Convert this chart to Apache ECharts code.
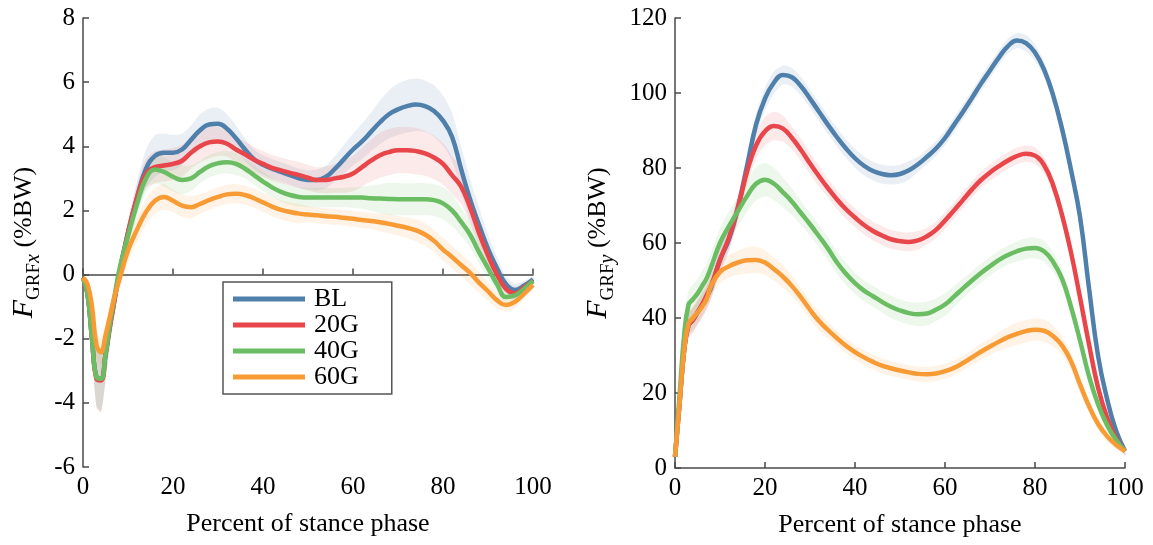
<!DOCTYPE html>
<html><head><meta charset="utf-8">
<script src="https://cdn.jsdelivr.net/npm/echarts@6/dist/echarts.min.js"></script>
<style>html,body{margin:0;padding:0;background:#fff}#c{width:1153px;height:545px}</style>
</head><body><div id="c"></div>
<script>
// ---------- data ----------
const percent = [0,1,2,3,4,5,6,7,8,
  10,12,14,16,18,20,22,24,26,28,
  30,32,34,36,38,40,42,44,46,48,
  50,52,54,56,58,60,62,64,66,68,
  70,72,74,76,78,80,82,84,86,88,
  90,92,94,96,98,100];
const groupNames = ['BL','20G','40G','60G'];
const xTicks = [0,20,40,60,80,100];

// Left panel: F_GRFx mean (%BW)
const fxBL = [-0.1,-0.6,-2.0,-3.2,-3.25,-2.5,-1.6,-0.8,0.0,
  1.3,2.4,3.3,3.7,3.8,3.8,3.9,4.2,4.5,4.68,
  4.7,4.55,4.25,3.9,3.6,3.42,3.3,3.2,3.1,3.0,
  2.95,2.95,3.05,3.3,3.6,3.9,4.15,4.45,4.75,5.0,
  5.15,5.25,5.3,5.25,5.1,4.8,4.3,3.3,2.35,1.55,
  0.8,0.2,-0.3,-0.48,-0.35,-0.15];
const fx20G = [-0.1,-0.6,-2.0,-3.25,-3.3,-2.5,-1.6,-0.8,0.0,
  1.3,2.4,3.15,3.35,3.4,3.45,3.55,3.8,4.0,4.12,
  4.15,4.08,3.9,3.75,3.58,3.45,3.33,3.25,3.17,3.1,
  3.02,2.95,2.95,3.0,3.05,3.15,3.35,3.55,3.72,3.82,
  3.88,3.88,3.85,3.78,3.65,3.45,3.1,2.75,2.1,1.3,
  0.6,0.0,-0.45,-0.58,-0.4,-0.2];
const fx40G = [-0.1,-0.6,-2.0,-3.2,-3.25,-2.5,-1.5,-0.7,0.1,
  1.2,2.2,3.0,3.28,3.2,3.05,2.95,3.0,3.2,3.38,
  3.47,3.5,3.45,3.3,3.1,2.9,2.72,2.58,2.48,2.42,
  2.4,2.4,2.4,2.4,2.4,2.4,2.4,2.38,2.37,2.36,
  2.35,2.35,2.35,2.35,2.32,2.22,2.0,1.65,1.25,0.7,
  0.2,-0.3,-0.7,-0.65,-0.45,-0.2];
const fx60G = [-0.1,-0.3,-1.0,-2.2,-2.42,-1.9,-1.3,-0.7,-0.2,
  0.75,1.4,1.95,2.3,2.42,2.3,2.15,2.1,2.2,2.32,
  2.42,2.5,2.52,2.48,2.38,2.25,2.12,2.02,1.95,1.9,
  1.87,1.85,1.82,1.8,1.77,1.74,1.7,1.67,1.63,1.58,
  1.52,1.46,1.38,1.25,1.05,0.78,0.55,0.3,0.05,-0.25,
  -0.52,-0.8,-0.95,-0.85,-0.6,-0.32];
// Left panel: standard deviation
const fxBLsd = [0.05,0.2,0.5,0.9,1.0,0.8,0.6,0.45,0.35,
  0.4,0.5,0.6,0.65,0.6,0.55,0.5,0.45,0.5,0.5,
  0.5,0.45,0.4,0.35,0.3,0.3,0.3,0.3,0.3,0.3,
  0.3,0.32,0.35,0.4,0.45,0.5,0.55,0.6,0.68,0.75,
  0.8,0.82,0.82,0.8,0.8,0.78,0.75,0.7,0.65,0.55,
  0.45,0.35,0.25,0.2,0.15,0.1];
const fx20Gsd = [0.05,0.2,0.5,0.9,1.0,0.8,0.6,0.45,0.35,
  0.35,0.4,0.45,0.5,0.5,0.5,0.5,0.5,0.5,0.5,
  0.45,0.4,0.4,0.4,0.4,0.4,0.4,0.4,0.4,0.4,
  0.4,0.4,0.42,0.45,0.5,0.55,0.6,0.65,0.7,0.72,
  0.72,0.72,0.72,0.7,0.68,0.65,0.6,0.55,0.5,0.45,
  0.4,0.3,0.25,0.2,0.15,0.1];
const fx40Gsd = [0.05,0.2,0.5,0.9,1.0,0.8,0.6,0.45,0.35,
  0.35,0.4,0.45,0.45,0.45,0.45,0.45,0.4,0.35,0.35,
  0.35,0.35,0.35,0.3,0.3,0.3,0.3,0.3,0.3,0.3,
  0.3,0.3,0.3,0.3,0.3,0.32,0.35,0.4,0.45,0.5,
  0.5,0.5,0.5,0.5,0.5,0.5,0.48,0.45,0.4,0.35,
  0.3,0.25,0.2,0.15,0.1,0.1];
const fx60Gsd = [0.05,0.1,0.25,0.4,0.45,0.4,0.35,0.3,0.3,
  0.35,0.4,0.4,0.4,0.4,0.35,0.35,0.35,0.3,0.3,
  0.3,0.3,0.3,0.3,0.3,0.3,0.3,0.3,0.3,0.3,
  0.25,0.25,0.25,0.25,0.25,0.25,0.25,0.25,0.28,0.3,
  0.3,0.32,0.35,0.35,0.35,0.35,0.35,0.35,0.35,0.32,
  0.3,0.25,0.2,0.2,0.15,0.1];

// Right panel: F_GRFy mean (%BW)
const fyBL = [3,17,31,38,39.5,41.5,43.5,45.5,48,
  55.5,61,69.5,80.5,91.5,98.5,102.8,104.8,104.2,101.8,
  98.5,95,91.5,88.2,85.2,82.6,80.6,79.2,78.4,78.1,
  78.4,79.4,81,83,85.2,88,91.5,95,98.7,102.5,
  106,109.5,112.5,114,113.3,110.8,106.3,99.5,90.5,79.5,
  67,48,30,18.5,10,4.5];
const fy20G = [3,17,31,38,39.5,41.5,43.5,46,48.5,
  55.5,61.5,69.5,79,86,89.8,91.2,90.5,88,84.8,
  81.2,77.8,74.6,71.6,69,66.8,64.8,63.2,62,61,
  60.5,60.3,60.7,61.8,63.5,66,68.7,71.5,74.3,76.8,
  78.8,80.5,82,83.2,83.8,83.3,80.8,75.5,67.5,57.5,
  45.5,33,21.5,13.5,8,4.5];
const fy40G = [3,19,35,43.5,45,46.5,48.5,50.5,53.5,
  60,64.5,68.5,72.5,75.8,76.9,75.8,73.5,71,68,
  65,61.8,58.5,54.8,51.8,49.3,47.3,45.8,44.3,43,
  42,41.3,41,41.2,42.2,43.6,45.7,47.9,50,52,
  53.8,55.5,56.8,57.8,58.5,58.7,57.8,55,50.5,43,
  34,24.5,17,11.5,7.5,4.5];
const fy60G = [3,17,31,38.5,40,41.5,43,45,48.5,
  52.3,53.8,54.8,55.4,55.5,54.8,53,51,48.5,45.5,
  42.2,39.2,36.8,34.6,32.6,30.9,29.5,28.3,27.3,26.6,
  26,25.5,25.1,25,25.2,25.8,26.7,28,29.5,31,
  32.4,33.7,34.9,35.8,36.5,36.9,36.6,35.2,32.7,28.5,
  22.3,16.5,11.8,8.5,6.2,4.5];
// Right panel: standard deviation
const fyBLsd = [1,2,2.5,3,3,3,3,3,3,
  3,3,3,3,3,3,3,2.5,2.5,2.5,
  2.5,2.5,2.5,2.5,2.5,2.5,2.5,2.5,2.5,2.5,
  2.5,2.5,2,2,2,2,2,2,2,2,
  2,2,2,2,2.2,2.2,2,2,2,2,
  2,2,1.5,1.5,1,1];
const fy20Gsd = [1,2,3,3.5,3.5,3.5,3.5,3.5,3.5,
  3.5,3.5,3.5,3.5,3.5,3.8,3.8,3.5,3,3,
  2.8,2.8,2.5,2.5,2.5,2.5,2.5,2.5,2.5,2.5,
  2.5,2.5,2.5,2.2,2.2,2.2,2.2,2.2,2.2,2.2,
  2.2,2.2,2.2,2.2,2.2,2.2,2.2,2,2,2,
  2,1.8,1.5,1.5,1,1];
const fy40Gsd = [1,2.5,3.5,4,4,4,4,4,4,
  4,4,4,4.2,4.5,4.5,4.3,4,3.5,3.2,
  3,3,3,3,3,2.8,2.8,2.8,2.8,3,
  3,3,3.2,3.2,3,3,2.8,2.6,2.5,2.5,
  2.5,2.5,2.5,2.7,2.8,2.8,2.8,2.6,2.4,2.2,
  2,1.8,1.5,1.5,1,1];
const fy60Gsd = [1,2,3,3,3,3,3,3,3,
  3,3,3.2,3.5,3.5,3.3,3,3,2.8,2.5,
  2.5,2.5,2.2,2,2,2,2,2,2,2,
  2,2,2,2,2,2,2,2,2,2.2,
  2.2,2.5,2.8,3,3,3,3,2.8,2.5,2.2,
  2,1.8,1.5,1.5,1,1];

// ---------- style ----------
const palette = ['#4f7fab', '#e8464b', '#6abd62', '#f89b35'];
const FONT = 'Liberation Serif';
const AXIS_COLOR = '#4a4a4a';

const leftMeans = [fxBL, fx20G, fx40G, fx60G];
const leftSds = [fxBLsd, fx20Gsd, fx40Gsd, fx60Gsd];
const rightMeans = [fyBL, fy20G, fy40G, fy60G];
const rightSds = [fyBLsd, fy20Gsd, fy40Gsd, fy60Gsd];

function bandSeries(name, mean, sd, color, gi) {
  return {
    name: name + ' sd', type: 'custom', xAxisIndex: gi, yAxisIndex: gi,
    silent: true, z: 1, data: [[percent[0], mean[0]]],
    encode: { x: 0, y: 1 },
    renderItem: function (params, api) {
      const upper = percent.map((x, i) => api.coord([x, mean[i] + sd[i]]));
      const lower = percent.map((x, i) => api.coord([x, mean[i] - sd[i]])).reverse();
      return {
        type: 'polygon',
        shape: { points: upper.concat(lower), smooth: 0.25 },
        style: { fill: color, opacity: 0.12 }
      };
    }
  };
}
function lineSeries(name, mean, color, gi) {
  return {
    name: name, type: 'line', xAxisIndex: gi, yAxisIndex: gi,
    data: percent.map((x, i) => [x, mean[i]]),
    smooth: 0.45, showSymbol: false,
    lineStyle: { color: color, width: 4.5 },
    itemStyle: { color: color }, z: 3
  };
}

const series = [];
groupNames.forEach((g, k) => series.push(bandSeries(g, leftMeans[k], leftSds[k], palette[k], 0)));
groupNames.forEach((g, k) => series.push(bandSeries(g, rightMeans[k], rightSds[k], palette[k], 1)));
groupNames.forEach((g, k) => series.push(lineSeries(g, leftMeans[k], palette[k], 0)));
groupNames.forEach((g, k) => series.push(lineSeries(g, rightMeans[k], palette[k], 1)));

const axisCommon = {
  axisLine: { show: true, lineStyle: { color: AXIS_COLOR, width: 1.5 } },
  axisTick: { show: true, inside: true, length: 6, lineStyle: { color: AXIS_COLOR, width: 1.5 } },
  axisLabel: { color: '#000', fontFamily: FONT, fontSize: 25, margin: 8 },
  splitLine: { show: false }
};

const xName = 'Percent of stance phase';
function xAxis(gi) {
  return Object.assign({}, axisCommon, {
    type: 'value', gridIndex: gi, min: xTicks[0], max: xTicks[xTicks.length - 1], interval: 20,
    name: xName, nameLocation: 'middle', nameGap: 44,
    nameTextStyle: { color: '#000', fontFamily: FONT, fontSize: 26 }
  });
}
function yName(sub) {
  return '{i|F}{s|GRF}{si|' + sub + '}{n| (%BW)}';
}
const yRich = {
  i: { fontFamily: FONT, fontStyle: 'italic', fontSize: 30, color: '#000' },
  s: { fontFamily: FONT, fontSize: 19, color: '#000', verticalAlign: 'bottom', padding: [0, 0, -5, 0] },
  si: { fontFamily: FONT, fontStyle: 'italic', fontSize: 20, color: '#000', verticalAlign: 'bottom', padding: [0, 0, -5, 0] },
  n: { fontFamily: FONT, fontSize: 26, color: '#000' }
};

const option = {
  animation: false,
  backgroundColor: '#fff',
  grid: [
    { left: 83, right: 620, top: 18, bottom: 78 },
    { left: 675, right: 28, top: 18, bottom: 77 }
  ],
  xAxis: [xAxis(0), xAxis(1)],
  yAxis: [
    Object.assign({}, axisCommon, { type: 'value', gridIndex: 0, min: -6, max: 8, interval: 2,
      name: yName('x'), nameLocation: 'middle', nameGap: 44,
      nameTextStyle: { color: '#000', fontFamily: FONT, fontSize: 26, rich: yRich } }),
    Object.assign({}, axisCommon, { type: 'value', gridIndex: 1, min: 0, max: 120, interval: 20,
      name: yName('y'), nameLocation: 'middle', nameGap: 62,
      nameTextStyle: { color: '#000', fontFamily: FONT, fontSize: 26, rich: yRich } })
  ],
  legend: {
    data: groupNames,
    orient: 'vertical', left: 223, top: 282,
    padding: [4, 33, 4, 10], itemGap: 0,
    itemWidth: 72, itemHeight: 5, icon: 'rect',
    borderColor: '#555', borderWidth: 1.5,
    textStyle: { fontFamily: FONT, fontSize: 26, color: '#000', lineHeight: 25, padding: [0, 0, 0, 4] }
  },
  series: series
};

const chart = echarts.init(document.getElementById('c'), null, { renderer: 'canvas' });
chart.setOption(option);
</script>
</body></html>
